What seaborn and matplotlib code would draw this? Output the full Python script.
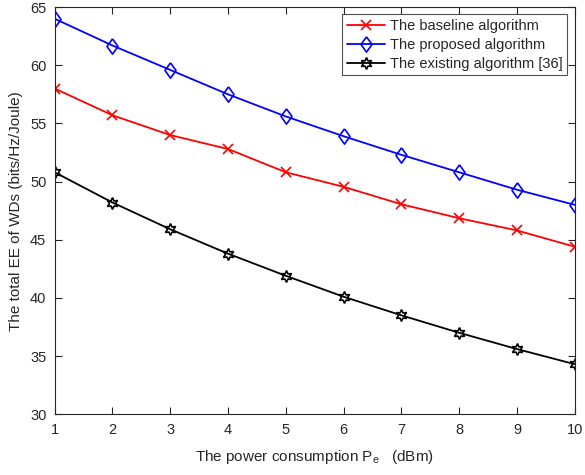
import matplotlib
matplotlib.use("Agg")
import matplotlib.pyplot as plt
import seaborn as sns
import pandas as pd
import numpy as np

power = [1, 2, 3, 4, 5, 6, 7, 8, 9, 10]
baseline = [58.0, 55.7, 54.0, 52.8, 50.8, 49.55, 48.05, 46.85, 45.8, 44.4]
proposed = [64.0, 61.7, 59.6, 57.5, 55.6, 53.9, 52.3, 50.8, 49.3, 48.0]
existing = [50.8, 48.2, 45.9, 43.8, 41.9, 40.1, 38.5, 37.0, 35.6, 34.3]
labels = ["The baseline algorithm", "The proposed algorithm", "The existing algorithm [36]"]

sns.set_style("white")
plt.rcParams['font.family'] = ['Liberation Sans', 'DejaVu Sans']
plt.rcParams['mathtext.fontset'] = 'custom'
plt.rcParams['mathtext.rm'] = 'Liberation Sans'

fig = plt.figure(figsize=(5.85, 4.75), dpi=100)
ax = fig.add_axes([0.0935, 0.128, 0.889, 0.857])

diamond = [(0, 1), (0.72, 0), (0, -1), (-0.72, 0), (0, 1)]
hexagram = (6, 1, 0)

series = [
    (baseline, labels[0], 'red', 'x', 7, None),
    (proposed, labels[1], 'blue', diamond, 11, 'none'),
    (existing, labels[2], 'black', hexagram, 8.5, 'none'),
]
for vals, lab, col, mk, ms, mfc in series:
    df = pd.DataFrame({"x": power, "y": vals})
    kw = dict(marker=mk, markersize=ms, markeredgecolor=col, markeredgewidth=1.2)
    if mfc is not None:
        kw['markerfacecolor'] = mfc
    sns.lineplot(data=df, x="x", y="y", ax=ax, color=col, linewidth=1.3, label=lab, **kw)

ax.set_xlim(1, 10)
ax.set_ylim(30, 65)
ax.set_xticks(range(1, 11))
ax.set_yticks(range(30, 66, 5))
axc = '#262626'
for s in ax.spines.values():
    s.set_visible(True)
    s.set_color(axc)
    s.set_linewidth(0.8)
ax.tick_params(direction='in', length=5, width=0.8, colors=axc, labelsize=10.5,
               top=True, right=True, bottom=True, left=True, pad=6)
ax.set_xlabel(r"The power consumption P$_{\mathrm{e}}$   (dBm)", fontsize=11, color=axc, labelpad=8)
ax.set_ylabel("The total EE of WDs (bits/Hz/Joule)", fontsize=11, color=axc, labelpad=5)

leg = ax.legend(loc='upper right', fontsize=10.5, frameon=True, fancybox=False,
                edgecolor=axc, borderpad=0.3, labelspacing=0.35, handlelength=2.6,
                handletextpad=0.4, borderaxespad=0.5)
leg.get_frame().set_linewidth(0.8)

fig.savefig("out.png", dpi=100)
